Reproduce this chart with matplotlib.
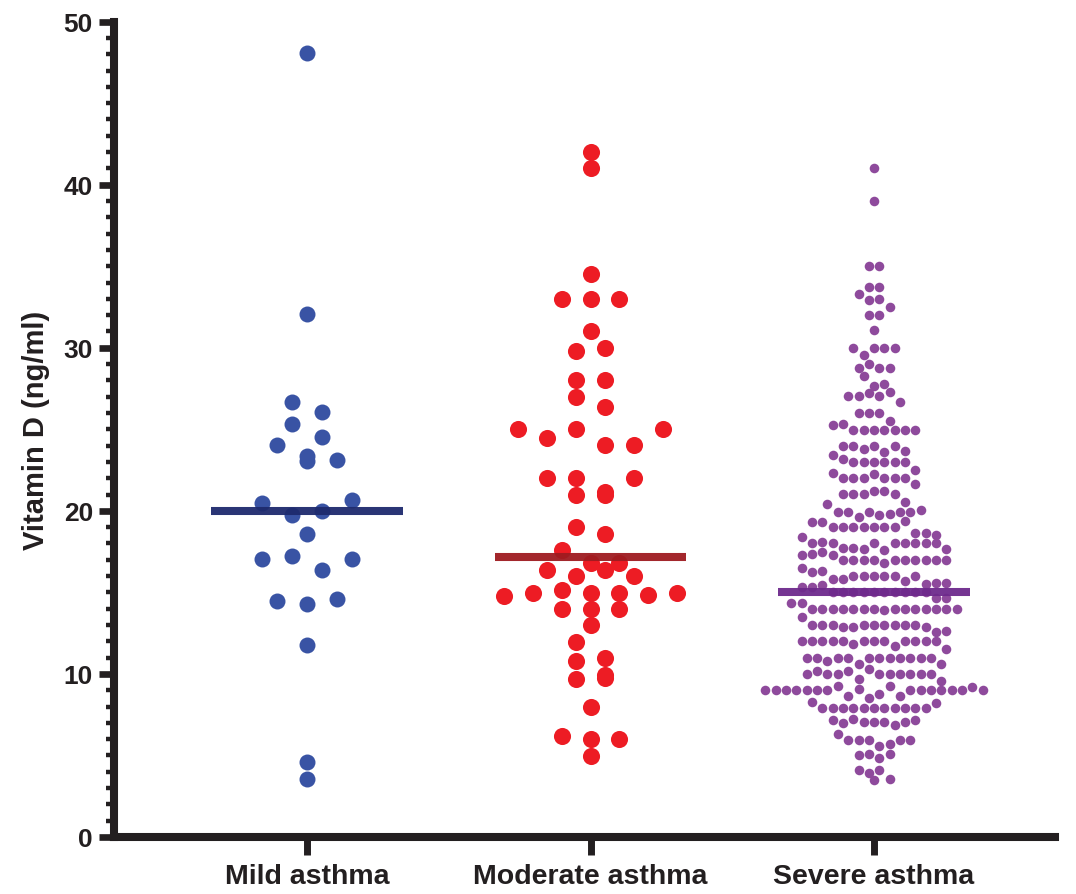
import numpy as np
import matplotlib
matplotlib.use('Agg')
import matplotlib.pyplot as plt
from matplotlib.ticker import MultipleLocator

plt.rcParams['font.family'] = ['Liberation Sans', 'DejaVu Sans']

categories = ['Mild asthma', 'Moderate asthma', 'Severe asthma']

# values, roughly row by row, left to right
mild = [48.1, 32.07, 26.67, 26.05, 25.33, 24.05, 24.55, 23.03, 23.34, 23.13,
        20.49, 19.76, 20.0, 20.67, 18.59, 17.03, 17.25, 16.4, 17.03,
        14.46, 14.3, 14.6, 11.8, 4.6, 3.57]

moderate = [42.02, 41.01, 34.53, 33.0, 33.0, 33.0, 31.0, 29.83, 29.96,
            28.02, 28.02, 26.99, 26.39, 25.0, 24.48, 25.0, 24.02, 24.02, 25.0,
            22.0, 22.0, 21.0, 21.18, 21.0, 22.0, 19.04, 18.6, 17.61,
            16.4, 16.02, 16.4, 16.02, 16.79, 16.79,
            14.77, 14.98, 15.16, 14.98, 14.98, 14.85, 14.98,
            14.0, 14.0, 14.0, 12.97, 11.96, 10.98, 10.77, 9.95, 9.69, 9.74,
            7.99, 6.18, 5.99, 5.99, 4.96]

severe = [41.0, 39.0, 35.0, 35.0, 33.7, 33.7, 33.3, 32.9, 33.0, 32.5,
          32.0, 32.0, 31.1,
          30.0, 29.55, 30.0, 30.0, 30.0, 28.73, 29.0, 28.28, 28.73, 28.73,
          27.63, 27.77, 27.06, 27.06, 27.22, 27.06, 27.3, 26.65,
          26.0, 26.0, 26.0, 25.26, 25.52, 25.32,
          24.97, 24.97, 24.97, 24.97, 24.97, 24.97, 24.97,
          24.0, 24.0, 23.79, 24.0, 23.62, 24.0, 23.68, 23.42,
          23.17, 23.0, 23.0, 23.0, 23.0, 23.0, 23.0, 22.52,
          22.31, 22.0, 22.0, 22.0, 22.25, 22.0, 22.0, 22.0, 21.64,
          21.02, 21.02, 21.02, 21.23, 21.23, 21.02, 20.41, 20.55,
          19.94, 19.94, 19.6, 19.94, 19.74, 19.8, 19.94, 19.94, 20.06,
          19.29, 19.29, 18.98, 18.98, 18.98, 18.98, 18.98, 18.98, 18.98, 19.39,
          18.67, 18.67, 18.51, 18.37,
          18.0, 18.06, 18.0, 17.75, 17.75, 17.65, 18.0, 17.59, 18.0, 18.0,
          18.0, 18.0, 18.0, 17.69,
          17.28, 17.34, 17.48, 17.28,
          17.0, 17.0, 17.0, 17.0, 16.79, 17.0, 17.0, 17.0, 17.0, 17.0, 17.0,
          16.48, 16.22, 16.32,
          15.85, 15.85, 15.98, 15.98, 15.98, 15.98, 15.98, 15.71, 15.98, 15.5,
          15.6, 15.3, 15.3, 15.6, 15.44,
          15.0, 15.0, 15.0, 15.0, 15.0, 15.0, 15.0, 15.0, 15.0, 15.0,
          14.63, 14.34, 14.63, 14.34,
          14.0, 14.0, 14.0, 14.0, 14.0, 14.0, 14.0, 13.9, 14.0, 14.0, 14.0,
          14.0, 14.0, 14.0, 14.0, 13.46,
          12.98, 12.98, 12.98, 12.86, 12.86, 12.98, 12.98, 12.98, 12.98, 12.98,
          12.98, 12.86, 12.54, 12.64,
          12.02, 12.02, 12.02, 12.02, 12.02, 11.82, 12.02, 12.02, 12.02, 11.72,
          12.02, 12.02, 12.02, 12.02, 11.52,
          11.0, 11.0, 10.8, 11.0, 11.0, 10.6, 11.0, 11.0, 11.0, 11.0, 11.0,
          11.0, 11.0, 10.6,
          10.0, 10.18, 10.0, 10.0, 10.18, 9.67, 10.29, 10.0, 10.0, 10.0, 10.0,
          10.0, 10.0, 9.57,
          9.0, 9.0, 9.0, 9.0, 9.0, 9.0, 9.0, 9.23, 8.65, 9.06, 8.55, 8.75,
          9.23, 8.65, 9.0, 9.0, 9.0, 9.0, 9.0, 9.0, 9.17, 9.0,
          8.28, 7.94, 7.94, 7.94, 7.94, 7.94, 7.94, 7.94, 7.94, 7.94, 7.94,
          7.94, 8.2,
          7.18, 6.98, 7.26, 7.06, 7.06, 7.06, 6.85, 7.06, 7.18,
          6.3, 5.95, 5.95, 5.95, 5.58, 5.69, 5.95, 5.95,
          5.01, 5.07, 4.87, 5.07, 4.11, 3.95, 4.11, 3.48, 3.54]

groups = [mild, moderate, severe]
dot_colors = ['#3953A4', '#ED1C24', '#8E4A9C']
line_colors = ['#1E2A6E', '#9E1B20', '#6E2A8C']
dot_size = [11.5, 12.3, 6.9]
step = [0.106, 0.102, 0.0365]
use_bins = [False, False, True]


def row_offsets(vals, dx, thresh=1.0, bins=False):
    # Prism-like column scatter: near-equal values share a row, centred
    vals = np.asarray(vals)
    if bins:
        keys = np.floor(vals + 0.5)
        rows = [list(np.where(keys == k)[0]) for k in np.unique(keys)]
    else:
        order = np.argsort(-vals, kind='stable')
        rows, cur, top = [], [], None
        for i in order:
            if cur and top - vals[i] < thresh:
                cur.append(i)
            else:
                if cur:
                    rows.append(cur)
                cur, top = [i], vals[i]
        rows.append(cur)
    off = np.zeros(len(vals))
    for r in rows:
        r = sorted(r)
        n = len(r)
        for k, i in enumerate(r):
            off[i] = (k - (n - 1) / 2.0) * dx
    return off


fig = plt.figure(figsize=(10.76, 8.95), dpi=100)
ax = fig.add_axes([0.1064, 0.0637, 0.874, 0.911])

for ii, vals in enumerate(groups):
    xs = ii + row_offsets(vals, step[ii], bins=use_bins[ii])
    ax.plot(xs, vals, 'o', ls='none', ms=dot_size[ii], mew=0,
            color=dot_colors[ii], zorder=3)
    med = np.median(vals)
    ax.hlines(med, ii - 0.338, ii + 0.338, colors=line_colors[ii],
              lw=5.8, zorder=4, alpha=0.95)

ax.set_xlim(-0.679, 2.638)
ax.set_ylim(0, 50)

for side in ['top', 'right']:
    ax.spines[side].set_visible(False)
for side in ['left', 'bottom']:
    ax.spines[side].set_linewidth(5.8)
    ax.spines[side].set_color('#231F20')
    ax.spines[side].set_capstyle('projecting')

ax.yaxis.set_major_locator(MultipleLocator(10))
ax.yaxis.set_minor_locator(MultipleLocator(1))
ax.tick_params(axis='y', which='major', length=10.5, width=4.8,
               color='#231F20', pad=5, labelsize=19)
ax.tick_params(axis='y', which='minor', length=5.5, width=3.2,
               color='#231F20')
ax.set_xticks(range(len(categories)))
ax.set_xticklabels(categories)
ax.tick_params(axis='x', which='major', length=13, width=5,
               color='#231F20', pad=6, labelsize=20.5)
for lab in ax.get_xticklabels() + ax.get_yticklabels():
    lab.set_fontweight('bold')
    lab.set_color('#231F20')

ax.set_ylabel('Vitamin D (ng/ml)', fontsize=21, fontweight='bold',
              color='#231F20', labelpad=10)

fig.savefig('out.png', dpi=100)
